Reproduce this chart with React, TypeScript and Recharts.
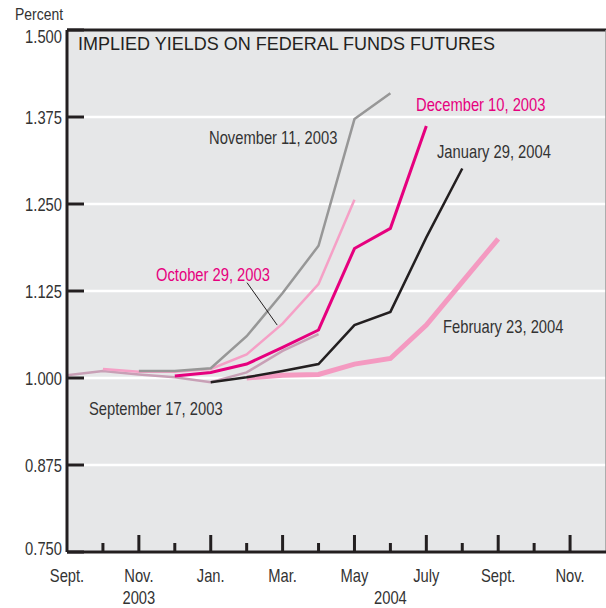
import React from "react";
import { CartesianGrid, Line, LineChart, ReferenceLine, XAxis, YAxis } from "recharts";

// Months since Sept. 2003 (0 = Sept. 2003 ... 15 = Dec. 2004)
const monthIdx = [0, 1, 2, 3, 4, 5, 6, 7, 8, 9, 10, 11, 12];

// Implied yields by contract month, one array per curve date
const sep17 = [1.004, 1.010, 1.005, 1.001, 0.994, 1.008, 1.039, 1.063, null, null, null, null, null];
const oct29 = [null, 1.013, 1.009, 1.009, 1.013, 1.034, 1.078, 1.135, 1.256, null, null, null, null];
const nov11 = [null, null, 1.010, 1.010, 1.014, 1.060, 1.122, 1.190, 1.372, 1.409, null, null, null];
const dec10 = [null, null, null, 1.003, 1.008, 1.020, 1.044, 1.069, 1.186, 1.215, 1.362, null, null];
const jan29 = [null, null, null, null, 0.994, 1.001, 1.010, 1.020, 1.076, 1.095, 1.202, 1.301, null];
const feb23 = [null, null, null, null, null, 1.000, 1.004, 1.005, 1.020, 1.028, 1.076, 1.138, 1.200];

const xTicks = [0, 1, 2, 3, 4, 5, 6, 7, 8, 9, 10, 11, 12, 13, 14];
const xTickLabels = ["Sept.", "", "Nov.", "", "Jan.", "", "Mar.", "", "May", "", "July", "", "Sept.", "", "Nov."];
const yearLabels = [
  { m: 2, label: "2003" },
  { m: 9, label: "2004" },
];
const yTicks = [0.75, 0.875, 1.0, 1.125, 1.25, 1.375, 1.5];

const data = monthIdx.map((m, i) => ({
  m,
  sep17: sep17[i],
  oct29: oct29[i],
  nov11: nov11[i],
  dec10: dec10[i],
  jan29: jan29[i],
  feb23: feb23[i],
}));

const AXIS = "#231f20";
const TEXT = "#333333";
const MAGENTA = "#e6007e";
const SANS = "'Liberation Sans', Arial, sans-serif";

// condensed look: Liberation Sans squeezed horizontally
function NText({ x, y, anchor = "start", size = 18, fill = TEXT, children }: any) {
  return (
    <text
      transform={`translate(${x},${y}) scale(0.82,1)`}
      textAnchor={anchor}
      fontFamily={SANS}
      fontSize={size}
      fill={fill}
    >
      {children}
    </text>
  );
}

function YTick(props: any) {
  const { x, y, payload } = props;
  const v = payload.value as number;
  const dy = v === 1.5 ? 6 : v === 0.75 ? -4 : 0;
  return (
    <g>
      <line x1={x} x2={x + 17} y1={y} y2={y} stroke={AXIS} strokeWidth={3} />
      <NText x={x - 5} y={y + dy + 6.5} anchor="end">
        {v.toFixed(3)}
      </NText>
    </g>
  );
}

function XTick(props: any) {
  const { x, y, payload } = props;
  const m = payload.value as number;
  const label = xTickLabels[m] ?? "";
  const major = label !== "";
  const year = yearLabels.find((d) => d.m === m);
  return (
    <g>
      {m > 0 && <line x1={x} x2={x} y1={y} y2={y - (major ? 17 : 9)} stroke={AXIS} strokeWidth={3} />}
      {major && (
        <NText x={x} y={y + 30} anchor="middle">
          {label}
        </NText>
      )}
      {year && (
        <NText x={x} y={y + 52} anchor="middle">
          {year.label}
        </NText>
      )}
    </g>
  );
}

const notes = [
  { text: "November 11, 2003", x: 209, y: 144, color: TEXT },
  { text: "December 10, 2003", x: 416, y: 111, color: MAGENTA },
  { text: "January 29, 2004", x: 437, y: 158, color: TEXT },
  { text: "October 29, 2003", x: 156, y: 281, color: MAGENTA },
  { text: "February 23, 2004", x: 443, y: 333, color: TEXT },
  { text: "September 17, 2003", x: 89, y: 415, color: TEXT },
];

export default function App() {
  return (
    <div style={{ position: "absolute", left: 0, top: 0, width: 606, height: 608 }}>
      <LineChart width={606} height={608} data={data} margin={{ top: 30, right: 0, left: 0, bottom: 0 }}>
        <CartesianGrid vertical={false} stroke="#ffffff" strokeWidth={2.5} fill="#e6e7e8" strokeOpacity={1} />
        <XAxis
          type="number"
          dataKey="m"
          domain={[0, 15]}
          ticks={xTicks}
          interval={0}
          height={56}
          tickSize={0}
          tickMargin={0}
          tickLine={false}
          axisLine={{ stroke: AXIS, strokeWidth: 3 }}
          tick={<XTick />}
        />
        <YAxis
          type="number"
          domain={[0.75, 1.5]}
          ticks={yTicks}
          interval={0}
          width={67}
          tickSize={0}
          tickMargin={0}
          tickLine={false}
          axisLine={{ stroke: AXIS, strokeWidth: 3 }}
          tick={<YTick />}
        />
        <ReferenceLine y={1.5} stroke={AXIS} strokeWidth={3} />
        <ReferenceLine x={15} stroke="#9a9a9a" strokeWidth={1.5} />
        <Line dataKey="feb23" stroke="#f49ac1" strokeWidth={5} dot={false} isAnimationActive={false} type="linear" />
        <Line dataKey="sep17" stroke="#c8a0b6" strokeWidth={2.5} dot={false} isAnimationActive={false} type="linear" />
        <Line dataKey="oct29" stroke="#f5a0c6" strokeWidth={2.5} dot={false} isAnimationActive={false} type="linear" />
        <Line dataKey="nov11" stroke="#979797" strokeWidth={2.5} dot={false} isAnimationActive={false} type="linear" />
        <Line dataKey="dec10" stroke={MAGENTA} strokeWidth={3} dot={false} isAnimationActive={false} type="linear" />
        <Line dataKey="jan29" stroke={AXIS} strokeWidth={2.5} dot={false} isAnimationActive={false} type="linear" />
        <ReferenceLine
          segment={[
            { x: 5.01, y: 1.137 },
            { x: 5.85, y: 1.076 },
          ]}
          stroke={AXIS}
          strokeWidth={1}
        />
      </LineChart>
      <svg width={606} height={608} style={{ position: "absolute", left: 0, top: 0, pointerEvents: "none" }}>
        <NText x={15} y={20} size={17}>
          Percent
        </NText>
        <text x={78} y={50} fontFamily={SANS} fontSize={18} fill={AXIS}>
          IMPLIED YIELDS ON FEDERAL FUNDS FUTURES
        </text>
        {notes.map((n) => (
          <NText key={n.text} x={n.x} y={n.y} fill={n.color}>
            {n.text}
          </NText>
        ))}
      </svg>
    </div>
  );
}
